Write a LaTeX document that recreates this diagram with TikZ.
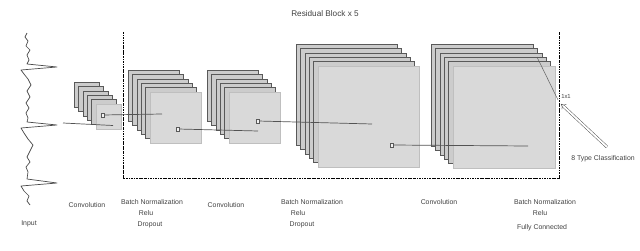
\documentclass[tikz,border=0pt]{standalone}
\usepackage{fontspec}
\setmainfont{Liberation Sans}
\usetikzlibrary{arrows.meta,calc,positioning}

\tikzset{
  fmap/.style={draw=black!65,fill=gray!40,line width=0.4pt},
  fmapfront/.style={draw=gray!50,fill=gray!30,line width=0.5pt,inner sep=0,anchor=north west},
  win/.style={draw=black!65,fill=gray!10,line width=0.4pt,inner sep=0,minimum width=1mm,minimum height=1.2mm},
  link/.style={draw=gray!65!black,line width=0.6pt},
  wave/.style={draw=gray!60!black,line width=0.6pt,line join=round},
  lbl/.style={font=\fontsize{5.9}{7}\selectfont,text=black!75,inner sep=1pt},
  blockframe/.style={line width=0.7pt,dash pattern=on 2pt off 0.8pt on 0.5pt off 0.8pt},
  outarrow/.style={draw=gray!60!black,double=white,double distance=1.6pt,line width=0.4pt,-{Implies}},
}

% stack of feature maps: name, back corner x, y, size
\newcommand{\fmapstack}[4]{%
  \foreach \k in {0,...,4}
    \draw[fmap] (#2+4.4*\k,#3+4.4*\k) rectangle ++(#4,#4);
  \node[fmapfront,minimum width=#4*0.03cm,minimum height=#4*0.03cm] (#1) at (#2+22,#3+22) {};
}

\begin{document}
\begin{tikzpicture}[x=0.03cm,y=-0.03cm,>=Stealth]
\useasboundingbox (0,0) rectangle (640,251);

% input signal
\draw[wave] plot coordinates {(27,33) (25,37) (28,41) (26,46) (30,50) (27,55) (29,60) (27,64)
  (57,67) (21,70) (24,74) (28,79) (31,85) (27,91) (30,97) (26,103) (29,108) (26,113) (28,118) (27,122)
  (57,125) (21,128) (24,133) (28,139) (33,145) (30,151) (27,157) (30,162) (26,167) (28,172) (27,179)
  (57,183) (21,186) (24,191) (29,196) (27,201) (30,205)};
\node[lbl] (input) at (29,224) {Input};

% residual block frame
\node[lbl,font=\fontsize{7}{8}\selectfont] (title) at (325,14) {Residual Block x 5};
\draw[blockframe] (123,32) -- (123,178) -- (559,178) -- (559,32);

% feature maps
\fmapstack{conv1}{74}{82}{25}
\fmapstack{bn1}{128}{70}{51}
\fmapstack{conv2}{207}{70}{51}
\fmapstack{bn2}{296}{44}{101}
\fmapstack{conv3}{431}{44}{102}

% windows and connections
\node[win] (w1) at (103,115) {};
\node[win] (w2) at (178,129) {};
\node[win] (w3) at (258,121) {};
\node[win] (w4) at (392,145) {};
\coordinate (sig) at (63,123);
\coordinate (c1) at (113,125.5);
\coordinate (c2) at (162,114);
\coordinate (c3) at (258,131);
\coordinate (c4) at (372,124);
\coordinate (c5) at (528,146);
\draw[link] (sig) -- (c1);
\draw[link] (w1) -- (c2);
\draw[link] (w2) -- (c3);
\draw[link] (w3) -- (c4);
\draw[link] (w4) -- (c5);

% output
\coordinate (corner) at (537,57);
\coordinate (fcpt) at (558,100);
\coordinate (head) at (561,104);
\coordinate (tail) at (607,147);
\draw[gray!70!black,line width=0.4pt] (corner) -- (fcpt);
\draw[outarrow] (tail) -- (head);
\node[lbl,font=\fontsize{5}{6}\selectfont] (kernel) at (566,96) {1x1};
\node[lbl] (cls) at (603,159) {8 Type Classification};

% labels
\node[lbl] (lconv1) at (87,205) {Convolution};
\node[lbl] (lbn1) at (152,202) {Batch Normalization};
\node[lbl] (lrelu1) at (146,213) {Relu};
\node[lbl] (ldrop1) at (150,225) {Dropout};
\node[lbl] (lconv2) at (226,205) {Convolution};
\node[lbl] (lbn2) at (312,202) {Batch Normalization};
\node[lbl] (lrelu2) at (298,213) {Relu};
\node[lbl] (ldrop2) at (302,225) {Dropout};
\node[lbl] (lconv3) at (439,202) {Convolution};
\node[lbl] (lbn3) at (545,202) {Batch Normalization};
\node[lbl] (lrelu3) at (540,213) {Relu};
\node[lbl] (lfc) at (542,228) {Fully Connected};
\end{tikzpicture}
\end{document}
